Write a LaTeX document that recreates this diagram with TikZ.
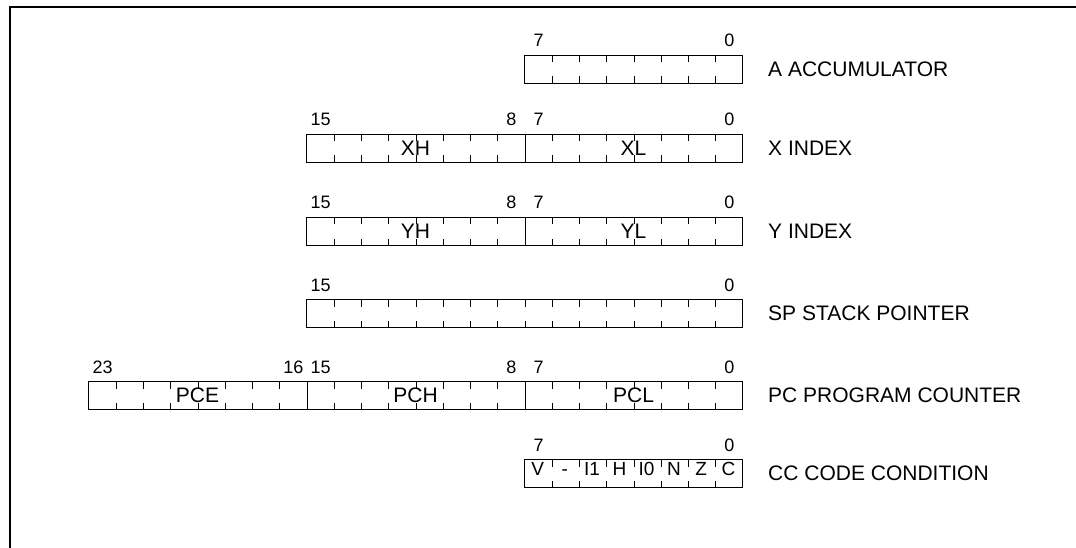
\documentclass[tikz,border=0pt]{standalone}
\usepackage{fontspec}
\setmainfont{Liberation Sans}
\usetikzlibrary{positioning, calc}

\begin{document}
\begin{tikzpicture}[x=1pt, y=1pt, node distance=25pt,
		regbox/.style={
			rectangle,
			draw,
			line width=1pt,
			minimum height=28pt,
			inner sep=0pt,
			anchor=north east
		},
		reglabel/.style={inner sep=0pt, font=\fontsize{21}{25}\selectfont},
		bitnum/.style={inner sep=0pt, anchor=base, font=\fontsize{18}{21}\selectfont},
		field/.style={inner sep=0pt, font=\fontsize{21}{25}\selectfont},
		flag/.style={inner sep=0pt, anchor=base, font=\fontsize{19}{22}\selectfont},
		bittick/.style={line width=1pt}]

		\useasboundingbox (0,0) rectangle (1076,-548);
		\draw [line width=1.3pt] (10,-548) -- (10,-7) -- (1076,-7);

		\node [regbox, minimum width=218pt] (acc) at (743,-55) {};
		\node [regbox, minimum width=436pt] (xidx) at (743,-134) {};
		\node [regbox, minimum width=436pt] (yidx) at (743,-217) {};
		\node [regbox, minimum width=436pt] (sp) at (743,-299) {};
		\node [regbox, minimum width=654pt] (pc) at (743,-381) {};
		\node [regbox, minimum width=218pt] (ccr) at (743,-459) {};

		\foreach \r/\n/\s in {acc/8/0, xidx/16/1, yidx/16/1, sp/16/0, pc/24/1, ccr/8/0} {
			\pgfmathtruncatemacro\m{\n-1}
			\foreach \i in {1,...,\m} {
				\pgfmathtruncatemacro\k{\s*(mod(\i,8)==0)}
				\ifnum\k=1
					\draw [bittick] ($(\r.north east)+(-27.25*\i,0)$) -- ($(\r.south east)+(-27.25*\i,0)$);
				\else
					\draw [bittick] ($(\r.north east)+(-27.25*\i,0)$) -- ++(0,-7.5)
						($(\r.south east)+(-27.25*\i,0)$) -- ++(0,7.5);
				\fi
			}
		}

		\foreach \r/\b in {acc/7, acc/0, xidx/15, xidx/8, xidx/7, xidx/0,
				yidx/15, yidx/8, yidx/7, yidx/0, sp/15, sp/0,
				pc/23, pc/16, pc/15, pc/8, pc/7, pc/0, ccr/7, ccr/0}
			\node [bitnum] (\r-\b) at ($(\r.north east)+({-27.25*(\b+0.5)},8)$) {\b};

		\node [field] (xh) at ($(xidx.center)+(-109,0)$) {XH};
		\node [field] (xl) at ($(xidx.center)+(109,0)$) {XL};
		\node [field] (yh) at ($(yidx.center)+(-109,0)$) {YH};
		\node [field] (yl) at ($(yidx.center)+(109,0)$) {YL};
		\node [field] (pce) at ($(pc.center)+(-218,0)$) {PCE};
		\node [field] (pch) at (pc.center) {PCH};
		\node [field] (pcl) at ($(pc.center)+(218,0)$) {PCL};

		\foreach \f [count=\c] in {V, -, I1, H, I0, N, Z, C}
			\node [flag] (flag\c) at ($(ccr.north west)+({27.25*(\c-0.5)},-16.5)$) {\f};

		\node [reglabel, right=of acc] (acclbl) {A ACCUMULATOR};
		\node [reglabel, right=of xidx] (xlbl) {X INDEX};
		\node [reglabel, right=of yidx] (ylbl) {Y INDEX};
		\node [reglabel, right=of sp] (splbl) {SP STACK POINTER};
		\node [reglabel, right=of pc] (pclbl) {PC PROGRAM COUNTER};
		\node [reglabel, right=of ccr] (cclbl) {CC CODE CONDITION};
	\end{tikzpicture}
\end{document}
